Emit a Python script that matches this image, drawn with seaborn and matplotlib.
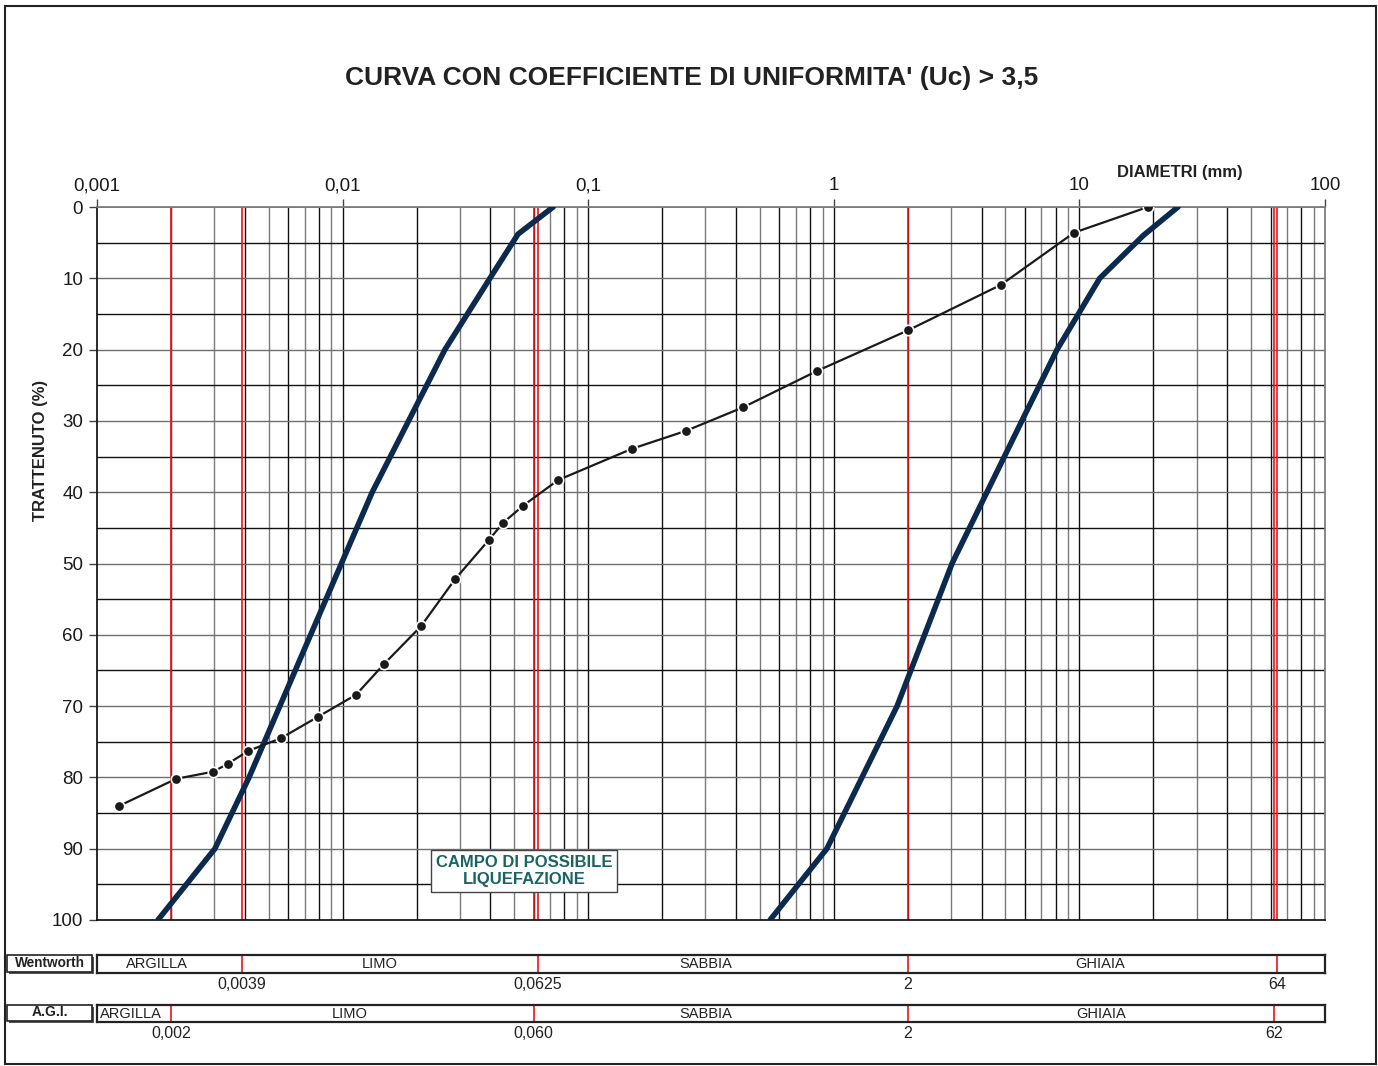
import numpy as np
import pandas as pd
import matplotlib
matplotlib.use("Agg")
import matplotlib.pyplot as plt
import seaborn as sns
from matplotlib.patches import Rectangle
from matplotlib.ticker import FixedLocator, NullLocator

# ---- data -------------------------------------------------------------
# grain-size curve of the sample (diameter in mm, retained %)
sample_d = [0.00123, 0.0021, 0.00297, 0.00341, 0.00412, 0.00561, 0.00794,
            0.01135, 0.01475, 0.02085, 0.0287, 0.0394, 0.045, 0.0543,
            0.0754, 0.151, 0.250, 0.427, 0.854, 2.005, 4.80, 9.51, 19.0]
sample_p = [84.0, 80.2, 79.2, 78.1, 76.3, 74.5, 71.5, 68.4, 64.1, 58.8,
            52.2, 46.7, 44.3, 41.9, 38.3, 33.9, 31.4, 28.1, 23.0, 17.3,
            10.9, 3.6, 0.0]

# limits of the liquefaction-susceptible band
fine_limit_d = [0.00177, 0.00302, 0.00416, 0.0132, 0.0261, 0.0398, 0.0518, 0.072]
fine_limit_p = [100, 90, 80, 40, 20, 10, 3.8, 0]
coarse_limit_d = [0.55, 0.937, 1.81, 3.03, 5.83, 8.11, 12.1, 18.2, 25.2]
coarse_limit_p = [100, 90, 70, 50, 30, 20, 10, 4, 0]

# classification boundaries (mm)
red_lines = [0.002, 0.0039, 0.060, 0.0625, 2, 62, 64]
x_ticks = [0.001, 0.01, 0.1, 1, 10, 100]
x_tick_labels = ["0,001", "0,01", "0,1", "1", "10", "100"]
y_ticks = list(range(0, 101, 10))

wentworth_bounds = [0.0039, 0.0625, 2, 64]
wentworth_bound_labels = ["0,0039", "0,0625", "2", "64"]
wentworth_names = ["ARGILLA", "LIMO", "SABBIA", "GHIAIA"]
wentworth_name_pos = [0.00176, 0.0141, 0.30, 12.2]

agi_bounds = [0.002, 0.060, 2, 62]
agi_bound_labels = ["0,002", "0,060", "2", "62"]
agi_names = ["ARGILLA", "LIMO", "SABBIA", "GHIAIA"]
agi_name_pos = [0.00138, 0.0107, 0.30, 12.3]

sample_df = pd.DataFrame({"d": sample_d, "p": sample_p})
fine_df = pd.DataFrame({"d": fine_limit_d, "p": fine_limit_p})
coarse_df = pd.DataFrame({"d": coarse_limit_d, "p": coarse_limit_p})

# ---- style ------------------------------------------------------------
sns.set_theme(style="white")
plt.rcParams["font.family"] = ["Liberation Sans", "DejaVu Sans"]

W, H = 1378, 1066
fig = plt.figure(figsize=(W / 100, H / 100), dpi=100)


def fx(px):
    return px / W


def fy(py):
    return 1 - py / H


ax = fig.add_axes([fx(97), fy(920), fx(1325) - fx(97), fy(207) - fy(920)])
ax.set_xscale("log")
ax.set_xlim(0.001, 100)
ax.set_ylim(100, 0)

# grid: log sub-decades and every 5 %
for dec in [0.001, 0.01, 0.1, 1, 10]:
    for k in range(1, 10):
        v = dec * k
        if v <= 0.001:
            continue
        col = "#111111" if k in (1, 2, 4, 6, 8) else "#7a7a7a"
        ax.axvline(v, color=col, lw=1.0, zorder=1)
for yv in range(5, 100, 5):
    ax.axhline(yv, color="#111111" if yv % 10 else "#6f6f6f", lw=1.0, zorder=1)
ax.axhline(0, color="#7a7a7a", lw=1.2, zorder=1)
for rv in red_lines:
    ax.axvline(rv, color="#e8151b", lw=1.2, zorder=2)

# band limits
sns.lineplot(data=fine_df, x="d", y="p", ax=ax, color="#0b2a4e", lw=4.0,
             sort=False, estimator=None, zorder=4)
sns.lineplot(data=coarse_df, x="d", y="p", ax=ax, color="#0b2a4e", lw=4.0,
             sort=False, estimator=None, zorder=4)
# sample curve
sns.lineplot(data=sample_df, x="d", y="p", ax=ax, color="#1a1a1a", lw=1.6,
             marker="o", markersize=7.5, markeredgecolor="white",
             markeredgewidth=1.2, sort=False, estimator=None, zorder=5)

ax.set_xlabel("")
ax.set_ylabel("")
ax.xaxis.set_ticks_position("top")
ax.xaxis.set_major_locator(FixedLocator(x_ticks))
ax.xaxis.set_minor_locator(NullLocator())
ax.set_xticklabels(x_tick_labels)
ax.set_yticks(y_ticks)
ax.tick_params(axis="x", which="major", top=True, bottom=False, length=6,
               width=1, color="#444444", labelsize=13.5, pad=3,
               labelcolor="#1a1a1a")
ax.tick_params(axis="y", left=True, length=6, width=1, color="#444444",
               labelsize=13.5, pad=4, labelcolor="#1a1a1a")
ax.spines["left"].set_color("#111111")
ax.spines["top"].set_color("#7a7a7a")
ax.spines["right"].set_visible(True)
ax.spines["right"].set_color("#7a7a7a")
ax.spines["bottom"].set_visible(True)
ax.spines["bottom"].set_color("#111111")

ax.text(0.0548, 93.1, "CAMPO DI POSSIBILE\nLIQUEFAZIONE", ha="center",
        va="center", fontsize=12, fontweight="bold", color="#1a6464",
        linespacing=1.15, zorder=6,
        bbox=dict(boxstyle="square,pad=0.3", fc="white", ec="#444444", lw=1))

fig.text(fx(41), fy(450), "TRATTENUTO (%)", ha="center", va="center",
         rotation=90, fontsize=12, fontweight="bold", color="#222222")
fig.text(fx(1180), fy(173), "DIAMETRI (mm)", ha="center", va="center",
         fontsize=12, fontweight="bold", color="#222222")
fig.text(fx(692), fy(78), "CURVA CON COEFFICIENTE DI UNIFORMITA' (Uc) > 3,5",
         ha="center", va="center", fontsize=19, fontweight="bold",
         color="#222222")


# ---- classification strips ------------------------------------------------
def strip(top_px, bot_px, title, bounds, bound_labels, names, name_pos,
          title_fs):
    sa = fig.add_axes([fx(97), fy(bot_px), fx(1325) - fx(97),
                       fy(top_px) - fy(bot_px)])
    sa.set_xscale("log")
    sa.set_xlim(0.001, 100)
    sa.set_ylim(0, 1)
    sa.set_xticks([])
    sa.set_yticks([])
    sa.xaxis.set_minor_locator(NullLocator())
    for s in sa.spines.values():
        s.set_visible(True)
        s.set_color("#222222")
        s.set_linewidth(1.6)
    for b, lab in zip(bounds, bound_labels):
        sa.axvline(b, color="#e8151b", lw=1.2)
        sa.text(b, -0.65, lab, ha="center", va="center", fontsize=11.5,
                color="#222222", clip_on=False)
    for n, p in zip(names, name_pos):
        sa.text(p, 0.5, n, ha="center", va="center", fontsize=10.5,
                color="#222222")
    fig.patches.append(Rectangle((fx(9), fy(bot_px + 1)), fx(92) - fx(7),
                                 fy(top_px) - fy(bot_px - 1),
                                 transform=fig.transFigure, fc="#555555",
                                 ec="none"))
    fig.patches.append(Rectangle((fx(7), fy(bot_px - 1)), fx(92) - fx(7),
                                 fy(top_px) - fy(bot_px - 1),
                                 transform=fig.transFigure, fc="white",
                                 ec="#222222", lw=1.2))
    fig.text(fx(49.5), fy((top_px + bot_px) / 2 - 1), title, ha="center",
             va="center", fontsize=title_fs, fontweight="bold",
             color="#222222")


strip(955, 973, "Wentworth", wentworth_bounds, wentworth_bound_labels,
      wentworth_names, wentworth_name_pos, 9.8)
strip(1005, 1022, "A.G.I.", agi_bounds, agi_bound_labels, agi_names,
      agi_name_pos, 10)

# outer frame
fig.patches.append(Rectangle((fx(4.5), fy(1064)), fx(1376) - fx(4.5),
                             fy(6) - fy(1064), transform=fig.transFigure,
                             fill=False, ec="#222222", lw=1.5))

fig.savefig("out.png", dpi=100)
